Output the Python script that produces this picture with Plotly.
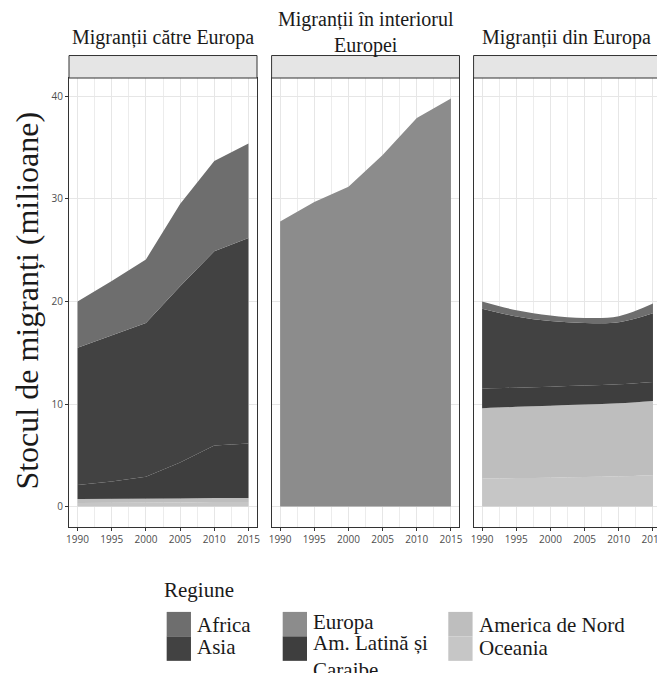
import plotly.graph_objects as go

# ---------------- data ----------------
years = [1990, 1995, 2000, 2005, 2010, 2015]
regions = ["Africa", "Asia", "Europa", "Am. Latină și Caraibe", "America de Nord", "Oceania"]
colors = {"Africa": "#6e6e6e", "Asia": "#424242", "Europa": "#8c8c8c",
          "Am. Latină și Caraibe": "#3e3e3e", "America de Nord": "#bebebe", "Oceania": "#c6c6c6"}
panel_titles = ["Migranții către Europa", "Migranții în interiorul<br>Europei", "Migranții din Europa"]

# migrant stock (millions) by region, per panel
to_europe = {
    "Oceania":               [0.35, 0.35, 0.40, 0.40, 0.45, 0.45],
    "America de Nord":       [0.40, 0.40, 0.40, 0.40, 0.40, 0.40],
    "Am. Latină și Caraibe": [1.35, 1.70, 2.10, 3.50, 5.10, 5.30],
    "Europa":                [0.00, 0.00, 0.00, 0.00, 0.00, 0.00],
    "Asia":                  [13.40, 14.25, 15.00, 17.20, 18.95, 20.05],
    "Africa":                [4.50, 5.30, 6.20, 8.00, 8.80, 9.20],
}
within_europe = {
    "Oceania":               [0, 0, 0, 0, 0, 0],
    "America de Nord":       [0, 0, 0, 0, 0, 0],
    "Am. Latină și Caraibe": [0, 0, 0, 0, 0, 0],
    "Europa":                [27.8, 29.7, 31.2, 34.3, 37.9, 39.8],
    "Asia":                  [0, 0, 0, 0, 0, 0],
    "Africa":                [0, 0, 0, 0, 0, 0],
}
from_europe = {
    "Oceania":               [2.75, 2.78, 2.82, 2.88, 2.95, 3.05],
    "America de Nord":       [6.85, 6.95, 7.02, 7.07, 7.12, 7.25],
    "Am. Latină și Caraibe": [1.90, 1.87, 1.85, 1.85, 1.85, 1.85],
    "Europa":                [0.00, 0.00, 0.00, 0.00, 0.00, 0.00],
    "Asia":                  [7.80, 6.95, 6.40, 6.10, 6.05, 6.70],
    "Africa":                [0.70, 0.60, 0.55, 0.50, 0.60, 0.95],
}
panels = [to_europe, within_europe, from_europe]
stack_order = ["Oceania", "America de Nord", "Am. Latină și Caraibe", "Europa", "Asia", "Africa"]
x_ticks = [1990, 1995, 2000, 2005, 2010, 2015]
y_ticks = [0, 10, 20, 30, 40]

# ---------------- layout geometry ----------------
OFF = 8  # page body margin offset
W, H = 665 - OFF, 673 - OFF
ML, MR, MT, MB = 69 - OFF, 0, 77.5 - OFF, 146
PW = W - ML - MR
PH = H - MT - MB

def px_x(x):
    return (x - OFF - ML) / PW

def px_y(y):
    return 1 - (y - OFF - MT) / PH

domains = [[px_x(69), px_x(258.6)], [px_x(273.3), px_x(462.8)], [px_x(477), 1.0]]
xranges = [[1988.75, 2016.25], [1988.75, 2016.25], [1988.75, 2016.03]]
yrange = [-1.99, 41.8]

fig = go.Figure()
for i, data in enumerate(panels):
    xa = "x" if i == 0 else f"x{i+1}"
    ya = "y" if i == 0 else f"y{i+1}"
    shape = "spline" if i == 2 else "linear"
    for r in stack_order:
        fig.add_trace(go.Scatter(
            x=years, y=data[r], xaxis=xa, yaxis=ya, name=r,
            stackgroup=f"s{i}", mode="lines", line=dict(width=0, color=colors[r], shape=shape),
            fillcolor=colors[r], showlegend=False, hoverinfo="x+y+name"))

axis_common = dict(showline=True, mirror=True, linecolor="#333333", linewidth=1,
                   ticks="outside", ticklen=3, tickcolor="#333333", tickwidth=1,
                   gridcolor="#e6e6e6", gridwidth=1, zeroline=False,
                   tickfont=dict(family="Open Sans", size=10, color="#4d4d4d"))

layout = dict(width=W, height=H, margin=dict(l=ML, r=MR, t=MT, b=MB),
              plot_bgcolor="white", paper_bgcolor="white", showlegend=False)
for i in range(3):
    xk = "xaxis" if i == 0 else f"xaxis{i+1}"
    yk = "yaxis" if i == 0 else f"yaxis{i+1}"
    layout[xk] = dict(axis_common, domain=domains[i], range=xranges[i], anchor="y" if i == 0 else f"y{i+1}",
                      tickvals=x_ticks, ticktext=[str(v) for v in x_ticks],
                      ticklabeloverflow="allow",
                      minor=dict(tickvals=[1992.5, 1997.5, 2002.5, 2007.5, 2012.5],
                                 showgrid=True, gridcolor="#ececec", gridwidth=1, ticks=""))
    layout[yk] = dict(axis_common, domain=[0, 1], range=yrange, anchor="x" if i == 0 else f"x{i+1}",
                      tickvals=y_ticks, ticktext=[str(v) for v in y_ticks],
                      showticklabels=(i == 0), ticks="outside" if i == 0 else "")
fig.update_layout(**layout)

shapes = []
annotations = []
title_y = [37, 32, 37]
for i in range(3):
    shapes.append(dict(type="rect", xref="paper", yref="paper",
                       x0=domains[i][0], x1=domains[i][1], y0=1, y1=px_y(55),
                       fillcolor="#e5e5e5", line=dict(color="#333333", width=1), layer="above"))
    annotations.append(dict(text=panel_titles[i], xref="paper", yref="paper",
                            x=(domains[i][0] + domains[i][1]) / 2, y=px_y(title_y[i]),
                            showarrow=False, xanchor="center", yanchor="middle",
                            font=dict(family="Liberation Serif", size=20, color="#1a1a1a")))

annotations.append(dict(text="Stocul de migranți (milioane)", xref="paper", yref="paper",
                        x=px_x(27), y=px_y(300), textangle=-90, showarrow=False,
                        xanchor="center", yanchor="middle",
                        font=dict(family="Liberation Serif", size=32, color="#1a1a1a")))

# legend (manual)
annotations.append(dict(text="Regiune", xref="paper", yref="paper", x=px_x(163), y=px_y(590),
                        showarrow=False, xanchor="left", yanchor="middle",
                        font=dict(family="Liberation Serif", size=21, color="#1a1a1a")))
legend_items = [
    ("Africa", 167.5, 612, "Africa", 625),
    ("Asia", 167.5, 636.5, "Asia", 647),
    ("Europa", 284.5, 612, "Europa", 622),
    ("Am. Latină și Caraibe", 284.5, 636.5, "Am. Latină și<br>Caraibe", 657),
    ("America de Nord", 451.5, 612, "America de Nord", 625),
    ("Oceania", 451.5, 636.5, "Oceania", 648),
]
for reg, sx, sy, label, ty in legend_items:
    shapes.append(dict(type="rect", xref="paper", yref="paper",
                       x0=px_x(sx), x1=px_x(sx + 24.5), y0=px_y(sy), y1=px_y(sy + 24.5),
                       fillcolor=colors[reg], line=dict(width=0)))
    annotations.append(dict(text=label, xref="paper", yref="paper", x=px_x(sx + 29), y=px_y(ty),
                            showarrow=False, xanchor="left", yanchor="middle", align="left",
                            font=dict(family="Liberation Serif", size=21, color="#1a1a1a")))

fig.update_layout(shapes=shapes, annotations=annotations)
fig.write_html("out.html")
